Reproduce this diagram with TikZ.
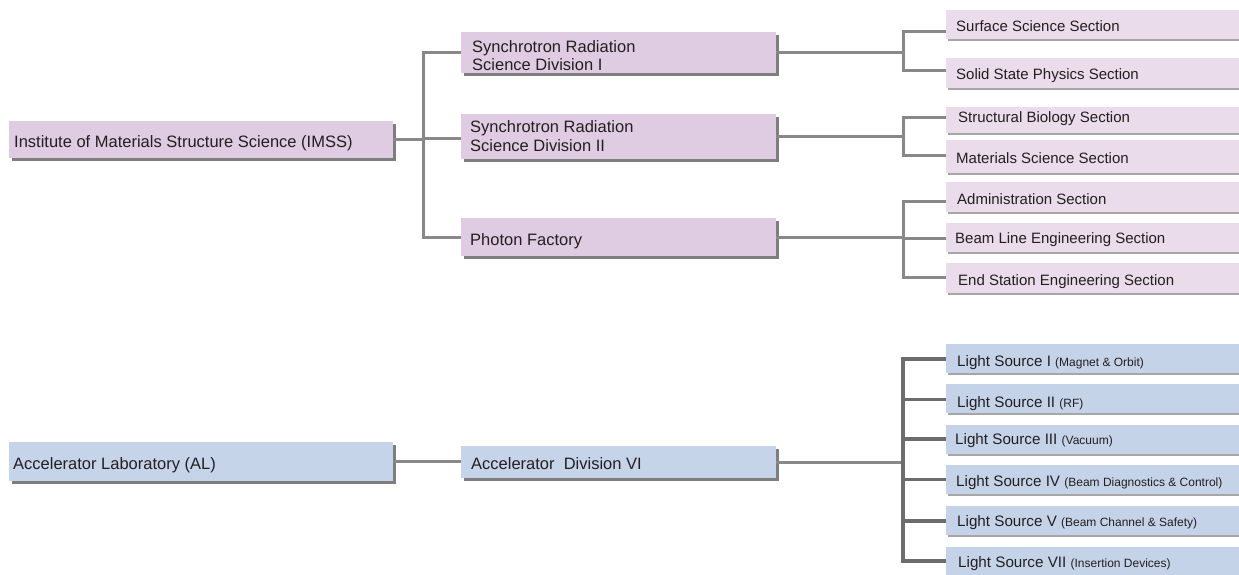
\documentclass[tikz,border=0pt]{standalone}
\usepackage{fontspec}
\setmainfont{Liberation Sans}
\usetikzlibrary{shadows}
\definecolor{mainpink}{HTML}{E0CCE2}
\definecolor{secpink}{HTML}{EADCEA}
\definecolor{mainblue}{HTML}{C6D4EA}
\definecolor{lsblue}{HTML}{C5D3E9}
\definecolor{shadowdark}{HTML}{7E7E7E}
\definecolor{shadowlight}{HTML}{A6A6A6}
\definecolor{linegray}{HTML}{888888}
\definecolor{linedark}{HTML}{6C6C6C}
\definecolor{txt}{HTML}{231F20}
\newcommand{\smallpar}[1]{{\fontsize{12}{14}\selectfont #1}}
\begin{document}
\begin{tikzpicture}[x=1pt,y=-1pt,
  boxbase/.style={rectangle, anchor=north west, inner sep=0pt, outer sep=0pt},
  mainbox/.style={boxbase, general shadow={shadow xshift=3pt, shadow yshift=-3pt, fill=shadowdark}},
  pinkbox/.style={mainbox, fill=mainpink},
  bluebox/.style={mainbox, fill=mainblue},
  secbox/.style={boxbase, fill=secpink, minimum width=300pt, general shadow={shadow xshift=2pt, shadow yshift=-2pt, fill=shadowlight}},
  lsbox/.style={boxbase, fill=lsblue, minimum width=300pt, general shadow={shadow xshift=2pt, shadow yshift=-2pt, fill=shadowlight}},
  bigtext/.style={anchor=base west, inner sep=0pt, text=txt, font=\fontsize{16.5}{18.5}\selectfont},
  sectext/.style={anchor=base west, inner sep=0pt, text=txt, font=\fontsize{15}{17}\selectfont},
  lstext/.style={anchor=base west, inner sep=0pt, text=txt, font=\fontsize{15.2}{17}\selectfont},
  link/.style={draw=linegray, line width=3pt, line join=miter},
  darklink/.style={draw=linedark, line width=3.2pt, line join=miter}]
\useasboundingbox[fill=white] (0,0) rectangle (1239,574);

% ---------- spine coordinates ----------
\coordinate (spA) at (423,0);
\coordinate (a2) at (423,138);
\coordinate (spB) at (903,0);
\coordinate (b1) at (903,31);
\coordinate (b2) at (903,70);
\coordinate (b3) at (903,117);
\coordinate (b4) at (903,155);
\coordinate (b5) at (903,201.5);
\coordinate (b6) at (903,238);
\coordinate (b7) at (903,277);
\coordinate (l1) at (903,359);
\coordinate (l2) at (903,399.5);
\coordinate (l3) at (903,439);
\coordinate (l4) at (903,479.5);
\coordinate (l5) at (903,521);
\coordinate (l6) at (903,561);

% ---------- boxes ----------
\node[pinkbox, minimum width=384pt, minimum height=37pt] (imss) at (9,121) {};
\node[pinkbox, minimum width=315pt, minimum height=41pt] (srs1) at (461,32) {};
\node[pinkbox, minimum width=315pt, minimum height=45pt] (srs2) at (461,114) {};
\node[pinkbox, minimum width=315pt, minimum height=38pt] (pf) at (461,218) {};
\node[bluebox, minimum width=384pt, minimum height=39pt] (al) at (9,442) {};
\node[bluebox, minimum width=315pt, minimum height=32pt] (acc) at (461,446) {};

\node[secbox, minimum height=29pt] (surf) at (946,10) {};
\node[secbox, minimum height=30pt] (solid) at (946,58) {};
\node[secbox, minimum height=25.5pt] (struct) at (946,107) {};
\node[secbox, minimum height=32.5pt] (mat) at (946,140) {};
\node[secbox, minimum height=30pt] (adm) at (946,182) {};
\node[secbox, minimum height=29pt] (blen) at (946,223) {};
\node[secbox, minimum height=30pt] (esen) at (946,263) {};

\node[lsbox, minimum height=29pt] (ls1) at (946,344) {};
\node[lsbox, minimum height=29pt] (ls2) at (946,384) {};
\node[lsbox, minimum height=29pt] (ls3) at (946,425) {};
\node[lsbox, minimum height=29pt] (ls4) at (946,465) {};
\node[lsbox, minimum height=29pt] (ls5) at (946,506) {};
\node[lsbox, minimum height=30pt] (ls7) at (946,547) {};

% ---------- connectors ----------
\draw[link] (imss.east) -- (imss.east -| spA);
\draw[link] (srs1.west) -- (srs1.west -| spA) -- (pf.west -| spA) -- (pf.west);
\draw[link] (a2) -- (a2 -| srs2.west);

\draw[link] (srs1.east) -- (srs1.east -| spB);
\draw[link] (b1 -| surf.west) -- (b1) -- (b2) -- (b2 -| solid.west);
\draw[link] (srs2.east) -- (srs2.east -| spB);
\draw[link] (b3 -| struct.west) -- (b3) -- (b4) -- (b4 -| mat.west);
\draw[link] (pf.east) -- (pf.east -| spB);
\draw[link] (b5 -| adm.west) -- (b5) -- (b7) -- (b7 -| esen.west);
\draw[link] (b6) -- (b6 -| blen.west);

\draw[link] (al.east) -- (al.east -| acc.west);
\draw[link] (acc.east) -- (acc.east -| spB);
\draw[darklink] (l1 -| ls1.west) -- (l1) -- (l6) -- (l6 -| ls7.west);
\draw[darklink] (l2) -- (l2 -| ls2.west);
\draw[darklink] (l3) -- (l3 -| ls3.west);
\draw[darklink] (l4) -- (l4 -| ls4.west);
\draw[darklink] (l5) -- (l5 -| ls5.west);

% ---------- texts ----------
\node[bigtext] (timss) at (14,147.5) {Institute of Materials Structure Science (IMSS)};
\node[bigtext, align=left, font=\fontsize{16.5}{18}\selectfont] (tsrs1) at (472,70) {Synchrotron Radiation\\Science Division I};
\node[bigtext, align=left, font=\fontsize{16.5}{19}\selectfont] (tsrs2) at (470,151.5) {Synchrotron Radiation\\Science Division II};
\node[bigtext] (tpf) at (470,245) {Photon Factory};
\node[bigtext] (tal) at (13,469) {Accelerator Laboratory (AL)};
\node[bigtext] (tacc) at (471,469) {Accelerator\ \ Division VI};

\node[sectext] (tsurf) at (956,31.5) {Surface Science Section};
\node[sectext] (tsolid) at (956,79) {Solid State Physics Section};
\node[sectext] (tstruct) at (958,122.5) {Structural Biology Section};
\node[sectext] (tmat) at (956,163) {Materials Science Section};
\node[sectext] (tadm) at (957,204) {Administration Section};
\node[sectext] (tblen) at (955,243.5) {Beam Line Engineering Section};
\node[sectext] (tesen) at (958,285) {End Station Engineering Section};

\node[lstext] (tls1) at (957,366) {Light Source I \smallpar{(Magnet \& Orbit)}};
\node[lstext] (tls2) at (957,407.5) {Light Source II \smallpar{(RF)}};
\node[lstext] (tls3) at (955,444) {Light Source III \smallpar{(Vacuum)}};
\node[lstext] (tls4) at (956,486) {Light Source IV \smallpar{(Beam Diagnostics \& Control)}};
\node[lstext] (tls5) at (957,526.5) {Light Source V \smallpar{(Beam Channel \& Safety)}};
\node[lstext] (tls7) at (958,567.5) {Light Source VII \smallpar{(Insertion Devices)}};
\end{tikzpicture}
\end{document}
